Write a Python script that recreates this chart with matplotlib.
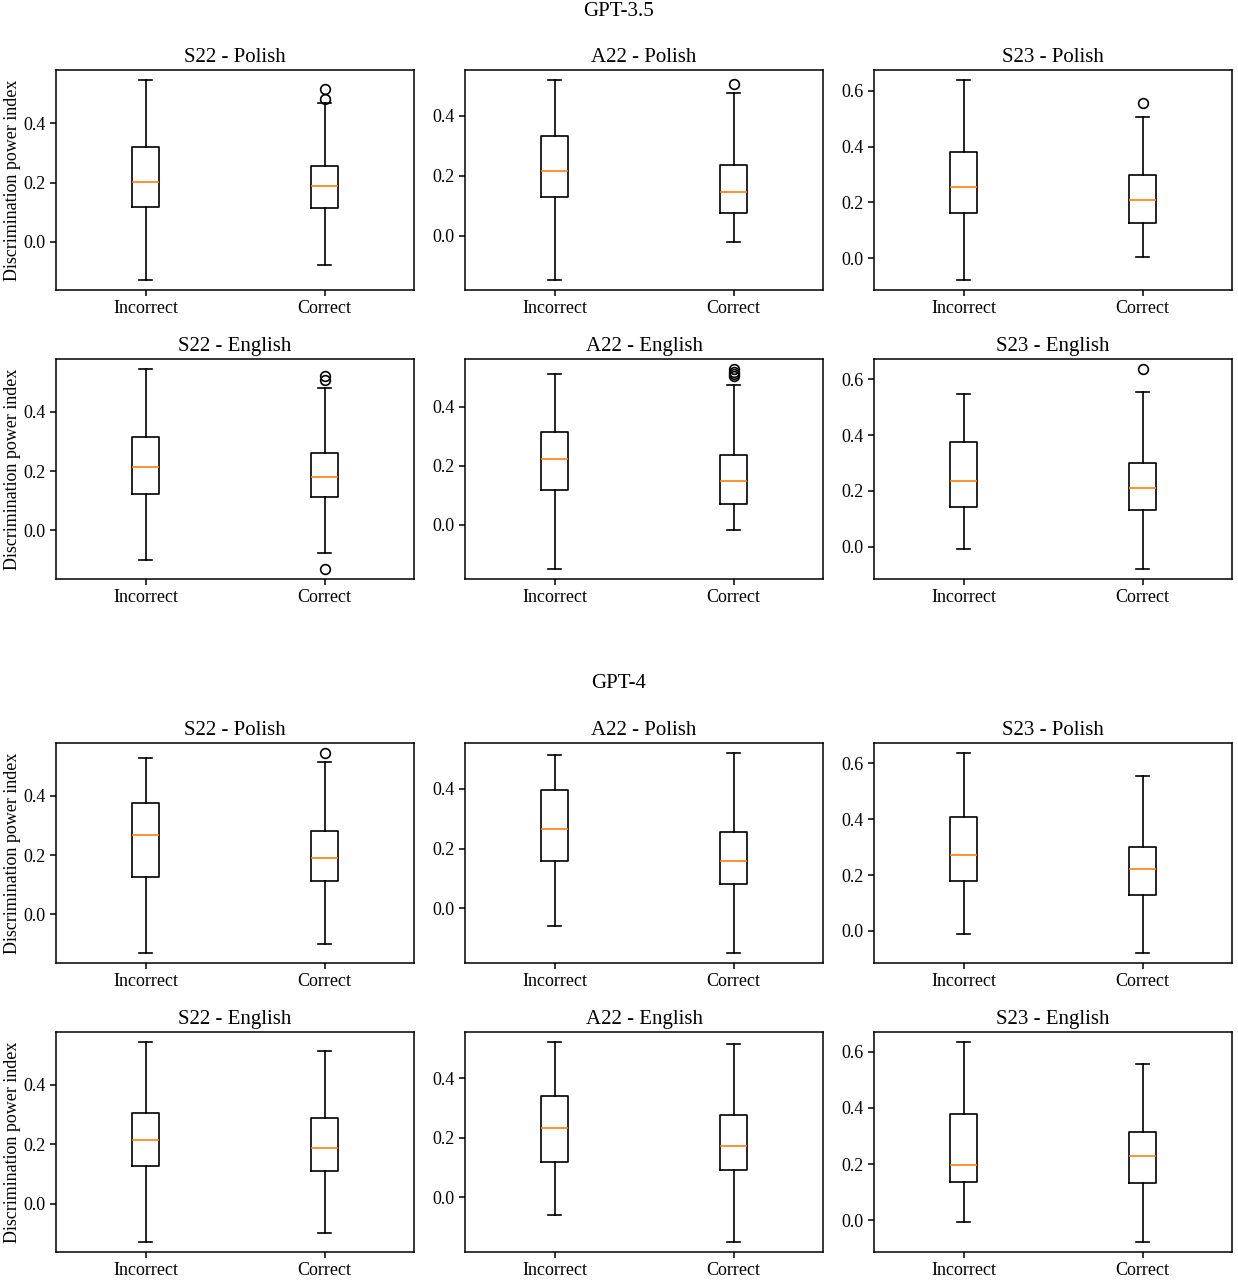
import numpy as np
import matplotlib
matplotlib.use("Agg")
import matplotlib.pyplot as plt

plt.rcParams['font.family'] = ['Liberation Serif', 'DejaVu Serif']
plt.rcParams['axes.linewidth'] = 1.1
plt.rcParams['xtick.major.width'] = 1.1
plt.rcParams['ytick.major.width'] = 1.1
plt.rcParams['xtick.major.size'] = 4
plt.rcParams['ytick.major.size'] = 4

# Box statistics: (whislo, q1, med, q3, whishi)
panel_titles = ["S22 - Polish", "A22 - Polish", "S23 - Polish",
                "S22 - English", "A22 - English", "S23 - English"]
categories = ["Incorrect", "Correct"]
groups = ["GPT-3.5", "GPT-4"]

gpt35_incorrect = [
    (-0.129, 0.118, 0.202, 0.319, 0.546),
    (-0.147, 0.130, 0.215, 0.333, 0.520),
    (-0.078, 0.162, 0.257, 0.382, 0.639),
    (-0.101, 0.122, 0.215, 0.315, 0.545),
    (-0.151, 0.117, 0.221, 0.315, 0.512),
    (-0.008, 0.142, 0.236, 0.376, 0.548),
]
gpt35_correct = [
    (-0.079, 0.113, 0.188, 0.255, 0.469),
    (-0.020, 0.078, 0.146, 0.237, 0.475),
    (0.006, 0.127, 0.208, 0.297, 0.505),
    (-0.078, 0.113, 0.181, 0.260, 0.481),
    (-0.020, 0.069, 0.149, 0.235, 0.475),
    (-0.079, 0.133, 0.209, 0.300, 0.555),
]
gpt35_correct_fliers = [
    [0.481, 0.514],
    [0.508],
    [0.556],
    [0.509, 0.520, -0.131],
    [0.503, 0.512, 0.519, 0.528],
    [0.636],
]

gpt4_incorrect = [
    (-0.130, 0.128, 0.268, 0.376, 0.529),
    (-0.059, 0.159, 0.267, 0.397, 0.512),
    (-0.010, 0.180, 0.273, 0.408, 0.637),
    (-0.129, 0.126, 0.213, 0.306, 0.543),
    (-0.059, 0.120, 0.231, 0.340, 0.521),
    (-0.007, 0.137, 0.198, 0.379, 0.635),
]
gpt4_correct = [
    (-0.101, 0.112, 0.190, 0.282, 0.513),
    (-0.149, 0.083, 0.159, 0.257, 0.520),
    (-0.079, 0.130, 0.220, 0.301, 0.556),
    (-0.100, 0.111, 0.187, 0.288, 0.513),
    (-0.150, 0.090, 0.172, 0.275, 0.514),
    (-0.078, 0.134, 0.228, 0.313, 0.555),
]
gpt4_correct_fliers = [
    [0.545],
    [],
    [],
    [],
    [],
    [],
]

group_data = [
    (gpt35_incorrect, gpt35_correct, gpt35_correct_fliers),
    (gpt4_incorrect, gpt4_correct, gpt4_correct_fliers),
]


def make_stats(vals, fliers, label):
    lo, q1, med, q3, hi = vals
    return dict(label=label, whislo=lo, q1=q1, med=med, q3=q3, whishi=hi,
                fliers=np.array(fliers))


W, H = 1238, 1280
fig = plt.figure(figsize=(W / 100, H / 100), dpi=100)

col_left = [56, 465, 874]
ax_w, ax_h = 358, 220
row_top = [70, 359, 743, 1032]
group_title_y = [11, 684]

line = dict(color='black', linewidth=1.2)
for g, (inc, cor, cor_fl) in enumerate(group_data):
    fig.text(0.5, 1 - group_title_y[g] / H, groups[g], ha='center', va='center',
             fontsize=15)
    for p in range(6):
        r = g * 2 + p // 3
        c = p % 3
        ax = fig.add_axes([col_left[c] / W, 1 - (row_top[r] + ax_h) / H,
                           ax_w / W, ax_h / H])
        stats = [make_stats(inc[p], [], categories[0]),
                 make_stats(cor[p], cor_fl[p], categories[1])]
        ax.bxp(stats, showfliers=True,
               boxprops=line, whiskerprops=line, capprops=line,
               medianprops=dict(color='C1', linewidth=1.2),
               flierprops=dict(marker='o', markerfacecolor='none',
                               markeredgecolor='black', markersize=7,
                               markeredgewidth=1.2))
        ax.set_title(panel_titles[p], fontsize=15)
        ax.tick_params(labelsize=13)
        if c == 0:
            ax.set_ylabel("Discrimination power index", fontsize=13, labelpad=2)

fig.savefig("out.png", dpi=100)
